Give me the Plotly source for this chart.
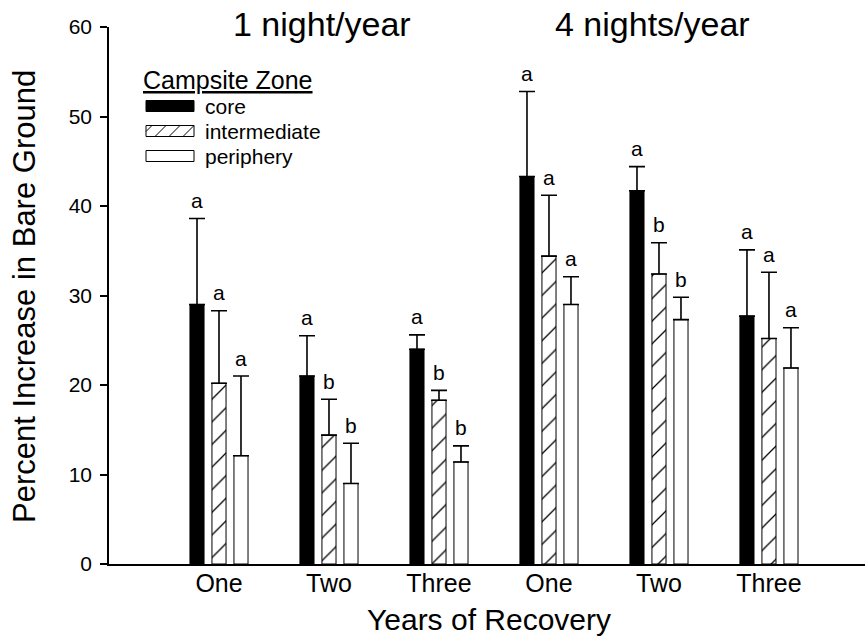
import plotly.graph_objects as go

# ---------------- data ----------------
groups = ["1 night/year", "4 nights/year"]
years = ["One", "Two", "Three", "One", "Two", "Three"]
zones = ["core", "intermediate", "periphery"]

core_mean = [29.0, 21.0, 24.0, 43.3, 41.7, 27.7]
core_se = [9.6, 4.5, 1.6, 9.5, 2.7, 7.4]
inter_mean = [20.2, 14.4, 18.3, 34.4, 32.4, 25.2]
inter_se = [8.1, 4.0, 1.1, 6.8, 3.5, 7.4]
peri_mean = [12.1, 9.0, 11.4, 29.0, 27.3, 21.9]
peri_se = [8.9, 4.5, 1.8, 3.1, 2.5, 4.5]

core_letters = ["a", "a", "a", "a", "a", "a"]
inter_letters = ["a", "b", "b", "a", "b", "a"]
peri_letters = ["a", "b", "b", "a", "b", "a"]

# ---------------- layout helpers ----------------
W, H = 865, 637
L, R, T, B = 109, 0, 27, 73
FONT = "Arial, Liberation Sans, sans-serif"


def pxx(x):
    return (x - L) / (W - L - R)


def pxy(y):
    return (H - B - y) / (H - T - B)


xpos = list(range(len(years)))

series = [
    (zones[0], core_mean, core_se, core_letters, dict(color="black", line=dict(color="black", width=1))),
    (zones[1], inter_mean, inter_se, inter_letters,
     dict(color="white", line=dict(color="black", width=1),
          pattern=dict(shape="/", fgcolor="black", bgcolor="white", fgopacity=1,
                       size=16, solidity=0.08))),
    (zones[2], peri_mean, peri_se, peri_letters, dict(color="white", line=dict(color="black", width=1))),
]

fig = go.Figure()
offsets = [-0.2, 0.0, 0.2]
annotations = []
for (name, mean, se, letters, marker), off in zip(series, offsets):
    fig.add_trace(go.Bar(
        x=xpos, y=mean, name=name, marker=marker, showlegend=False,
        error_y=dict(type="data", symmetric=False, array=se, arrayminus=[0] * len(se),
                     color="black", thickness=1.6, width=8),
    ))
    for xi, m, s, lt in zip(xpos, mean, se, letters):
        annotations.append(dict(x=xi + off, y=m + s, xref="x", yref="y", text=lt,
                                showarrow=False, yanchor="middle", yshift=18,
                                font=dict(family=FONT, size=21, color="black")))

# group titles
annotations.append(dict(x=pxx(322), y=pxy(24), xref="paper", yref="paper", text=groups[0],
                        showarrow=False, xanchor="center", yanchor="middle",
                        font=dict(family=FONT, size=34, color="black")))
annotations.append(dict(x=pxx(652), y=pxy(24), xref="paper", yref="paper", text=groups[1],
                        showarrow=False, xanchor="center", yanchor="middle",
                        font=dict(family=FONT, size=34, color="black")))
# y axis title
annotations.append(dict(x=pxx(24), y=pxy(297), xref="paper", yref="paper",
                        text="Percent Increase in Bare Ground", textangle=-90,
                        showarrow=False, xanchor="center", yanchor="middle",
                        font=dict(family=FONT, size=31, color="black")))
# x axis title
annotations.append(dict(x=pxx(489), y=pxy(620), xref="paper", yref="paper",
                        text="Years of Recovery",
                        showarrow=False, xanchor="center", yanchor="middle",
                        font=dict(family=FONT, size=30, color="black")))

# legend (manual)
annotations.append(dict(x=pxx(141), y=pxy(80), xref="paper", yref="paper",
                        text="<u>Campsite Zone</u>", showarrow=False,
                        xanchor="left", yanchor="middle",
                        font=dict(family=FONT, size=25, color="black")))
shapes = []
sw_rows = [106, 131, 156]
for zi, (zname, yc) in enumerate(zip(zones, sw_rows)):
    x0, x1, y0, y1 = 146, 194, yc - 5.5, yc + 5.5
    shapes.append(dict(type="rect", xref="paper", yref="paper",
                       x0=pxx(x0), x1=pxx(x1), y0=pxy(y1), y1=pxy(y0),
                       line=dict(color="black", width=1),
                       fillcolor="black" if zi == 0 else "white"))
    if zi == 1:
        h = y1 - y0
        for xb in [141, 155, 169, 183]:
            sx0, sy0 = xb, y1
            sx1, sy1 = xb + h, y0
            if sx0 < x0:
                sy0 = y1 - (x0 - sx0)
                sx0 = x0
            shapes.append(dict(type="line", xref="paper", yref="paper",
                               x0=pxx(sx0), y0=pxy(sy0), x1=pxx(sx1), y1=pxy(sy1),
                               line=dict(color="black", width=1)))
    annotations.append(dict(x=pxx(203), y=pxy(yc), xref="paper", yref="paper",
                            text=zname, showarrow=False, xanchor="left", yanchor="middle",
                            font=dict(family=FONT, size=21, color="black")))

fig.update_layout(
    template="none",
    width=W, height=H,
    margin=dict(l=L, r=R, t=T, b=B, pad=0, autoexpand=False),
    paper_bgcolor="white", plot_bgcolor="white",
    barmode="group", bargap=0.4, bargroupgap=0.36,
    showlegend=False,
    annotations=annotations, shapes=shapes,
    font=dict(family=FONT, color="black"),
)
fig.update_xaxes(
    automargin=False,
    range=[-1.0, 5.873], tickmode="array", tickvals=xpos, ticktext=years,
    showline=True, linecolor="black", linewidth=1.5, ticks="", showgrid=False,
    zeroline=False, tickfont=dict(family=FONT, size=25, color="black"),
    ticklabelstandoff=-4,
)
fig.update_yaxes(
    automargin=False,
    range=[0, 60], tickmode="array", tickvals=[0, 10, 20, 30, 40, 50, 60],
    showline=True, linecolor="black", linewidth=1.5, ticks="outside", ticklen=7,
    tickwidth=1.5, tickcolor="black", showgrid=False, zeroline=False,
    tickfont=dict(family=FONT, size=21, color="black"), ticklabelstandoff=4,
)

fig.write_html(
    "out.html",
    config={"displayModeBar": False},
    post_script="document.body.style.margin='0px';document.body.style.overflow='hidden';",
)
